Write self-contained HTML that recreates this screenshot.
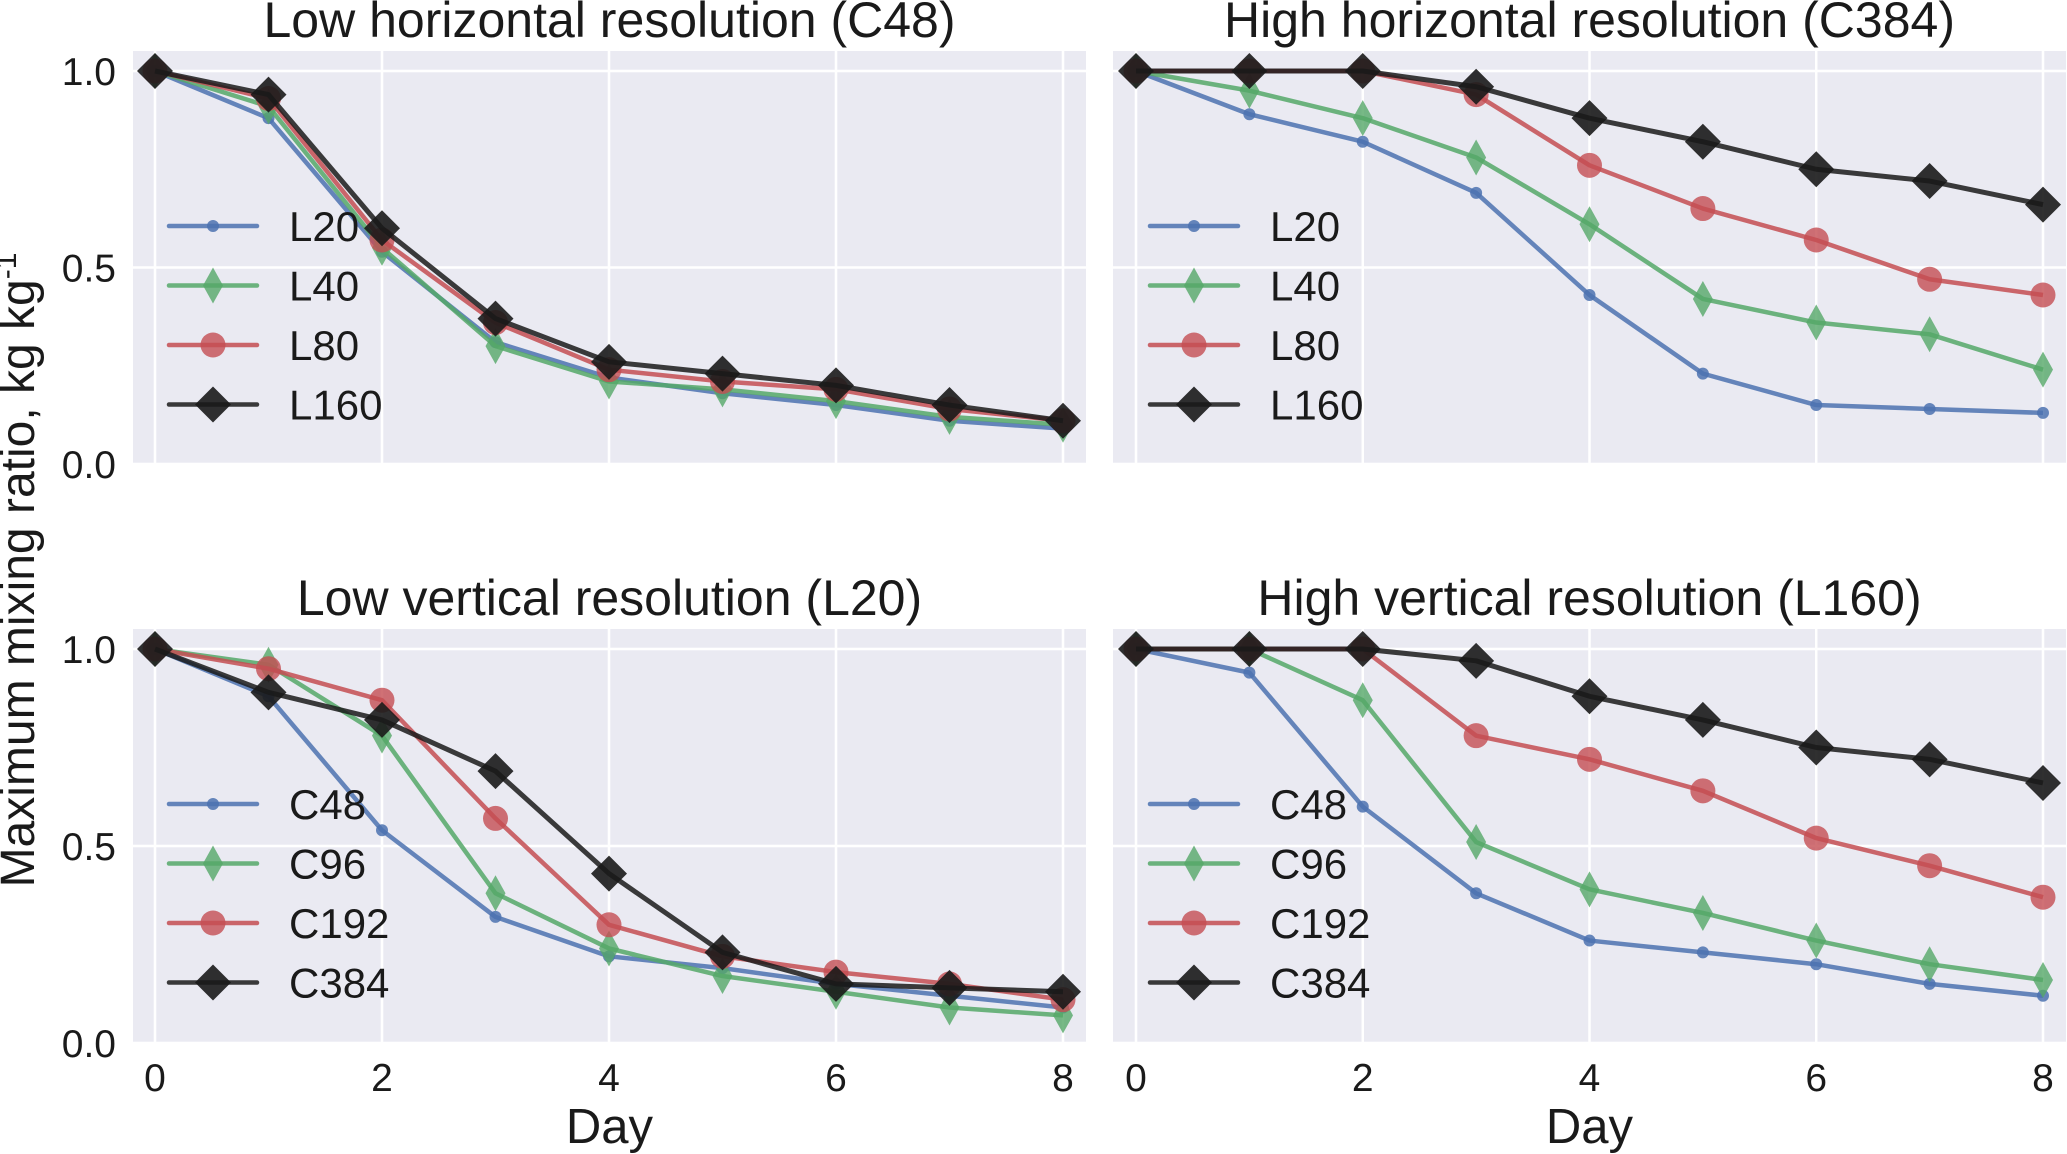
<!DOCTYPE html>
<html><head><meta charset="utf-8"><style>
html,body{margin:0;padding:0;background:#fff;}
svg{display:block;font-family:"Liberation Sans",Arial,sans-serif;}
</style></head><body>
<svg id="fig" width="2067" height="1154" viewBox="0 0 2067 1154" xmlns="http://www.w3.org/2000/svg"></svg>
<script>
const days = [0,1,2,3,4,5,6,7,8];
const xTicks = [0,2,4,6,8];
const yTicks = [0.0,0.5,1.0];
const yTickLabels = ["0.0","0.5","1.0"];
const titles = ["Low horizontal resolution (C48)","High horizontal resolution (C384)","Low vertical resolution (L20)","High vertical resolution (L160)"];
const levelNames = ["L20","L40","L80","L160"];
const resNames = ["C48","C96","C192","C384"];
// top-left: C48, by vertical level
const tl_L20 = [1,0.88,0.54,0.31,0.22,0.18,0.15,0.11,0.09];
const tl_L40 = [1,0.91,0.55,0.30,0.21,0.19,0.16,0.12,0.10];
const tl_L80 = [1,0.93,0.57,0.36,0.24,0.21,0.19,0.14,0.11];
const tl_L160 = [1,0.94,0.60,0.37,0.26,0.23,0.20,0.15,0.11];
// top-right: C384
const tr_L20 = [1,0.89,0.82,0.69,0.43,0.23,0.15,0.14,0.13];
const tr_L40 = [1,0.95,0.88,0.78,0.61,0.42,0.36,0.33,0.24];
const tr_L80 = [1,1,1,0.94,0.76,0.65,0.57,0.47,0.43];
const tr_L160 = [1,1,1,0.96,0.88,0.82,0.75,0.72,0.66];
// bottom-left: L20
const bl_C48 = [1,0.88,0.54,0.32,0.22,0.19,0.15,0.12,0.09];
const bl_C96 = [1,0.96,0.78,0.38,0.24,0.17,0.13,0.09,0.07];
const bl_C192 = [1,0.95,0.87,0.57,0.30,0.22,0.18,0.15,0.11];
const bl_C384 = [1,0.89,0.82,0.69,0.43,0.23,0.15,0.14,0.13];
// bottom-right: L160
const br_C48 = [1,0.94,0.60,0.38,0.26,0.23,0.20,0.15,0.12];
const br_C96 = [1,1,0.87,0.51,0.39,0.33,0.26,0.20,0.16];
const br_C192 = [1,1,1,0.78,0.72,0.64,0.52,0.45,0.37];
const br_C384 = [1,1,1,0.97,0.88,0.82,0.75,0.72,0.66];

const NS="http://www.w3.org/2000/svg";
const svg=document.getElementById('fig');
function mk(tag,attrs,parent){const e=document.createElementNS(NS,tag);for(const k in attrs)e.setAttribute(k,attrs[k]);(parent||svg).appendChild(e);return e;}

const colors=["#4C72B0","#55A868","#C44E52","#1a1a1a"];
const panels=[
 {x0:133,x1:1086,d0:155,d8:1063,y0:51,y1:464,v1:71,v0:464,series:[tl_L20,tl_L40,tl_L80,tl_L160],names:levelNames,yl:true,xl:false,lx:169},
 {x0:1113,x1:2066,d0:1136,d8:2043,y0:51,y1:464,v1:71,v0:464,series:[tr_L20,tr_L40,tr_L80,tr_L160],names:levelNames,yl:false,xl:false,lx:1150},
 {x0:133,x1:1086,d0:155,d8:1063,y0:629,y1:1043,v1:649,v0:1043,series:[bl_C48,bl_C96,bl_C192,bl_C384],names:resNames,yl:true,xl:true,lx:169},
 {x0:1113,x1:2066,d0:1136,d8:2043,y0:629,y1:1043,v1:649,v0:1043,series:[br_C48,br_C96,br_C192,br_C384],names:resNames,yl:false,xl:true,lx:1150}
];

function marker(k,cx,cy,g){
  let m;
  if(k===0) m=mk('circle',{cx:cx,cy:cy,r:6,fill:colors[0],'fill-opacity':0.85},g);
  else if(k===1) m=mk('polygon',{points:`${cx},${cy-18} ${cx+10},${cy} ${cx},${cy+18} ${cx-10},${cy}`,fill:colors[1],'fill-opacity':0.8},g);
  else if(k===2) m=mk('circle',{cx:cx,cy:cy,r:12.5,fill:colors[2],'fill-opacity':0.8},g);
  else m=mk('polygon',{points:`${cx},${cy-18} ${cx+18},${cy} ${cx},${cy+18} ${cx-18},${cy}`,fill:colors[3],'fill-opacity':0.9},g);
  return m;
}

panels.forEach((p,pi)=>{
  const g=mk('g',{});
  
  
  const xs=d=>p.d0+(p.d8-p.d0)*d/8;
  const ys=v=>p.v0+(p.v1-p.v0)*v;
  const bg=mk('rect',{x:p.x0,y:p.y0,width:p.x1-p.x0,height:p.y1-p.y0,fill:'#EAEAF2'},g);
  
  
  xTicks.forEach(t=>{const l=mk('line',{x1:xs(t),x2:xs(t),y1:p.y0,y2:p.y1,stroke:'#fff','stroke-width':2.5},g);
    
    });
  yTicks.forEach(t=>{const l=mk('line',{x1:p.x0,x2:p.x1,y1:ys(t),y2:ys(t),stroke:'#fff','stroke-width':2.5},g);
    
    });
  const tt=mk('text',{x:(p.x0+p.x1)/2,y:p.y0-14,'text-anchor':'middle','font-size':50,fill:'#1a1a1a'},g);
  tt.textContent=titles[pi];
  
  
  if(p.yl){yTicks.forEach((t,i)=>{const e=mk('text',{x:116,y:ys(t)+14,'text-anchor':'end','font-size':39,fill:'#1a1a1a'},g);e.textContent=yTickLabels[i];
    
    });}
  if(p.xl){xTicks.forEach(t=>{const e=mk('text',{x:xs(t),y:1091,'text-anchor':'middle','font-size':39,fill:'#1a1a1a'},g);e.textContent=String(t);
    
    });
    const dl=mk('text',{x:(p.x0+p.x1)/2,y:1143,'text-anchor':'middle','font-size':49,fill:'#1a1a1a'},g);dl.textContent='Day';
    
    }
  p.series.forEach((s,k)=>{
    const sg=mk('g',{},g);
    
    
    mk('polyline',{points:s.map((v,i)=>xs(days[i])+','+ys(v)).join(' '),fill:'none',stroke:colors[k],'stroke-width':k===3?5:4.5,'stroke-opacity':0.85,'stroke-linejoin':'round'},sg);
    s.forEach((v,i)=>{const m=marker(k,xs(days[i]),ys(v),sg);
      
      });
  });
  const ys0=p.y0===51?226:804;
  p.names.forEach((n,k)=>{
    const lg=mk('g',{},g);
    
    
    const y=ys0+k*59.5;
    mk('line',{x1:p.lx,x2:p.lx+88,y1:y,y2:y,stroke:colors[k],'stroke-width':4.5,'stroke-opacity':0.85,'stroke-linecap':'round'},lg);
    marker(k,p.lx+44,y,lg);
    const t=mk('text',{x:p.lx+120,y:y+15,'font-size':42,fill:'#1a1a1a'},lg);t.textContent=n;
  });
});
const yl=mk('text',{x:0,y:0,transform:'translate(34,570) rotate(-90)','text-anchor':'middle','font-size':48,fill:'#1a1a1a'});


yl.textContent='Maximum mixing ratio, kg kg';
const sup=mk('tspan',{dy:-18,'font-size':30},yl);sup.textContent='-1';
</script>
</body></html>
